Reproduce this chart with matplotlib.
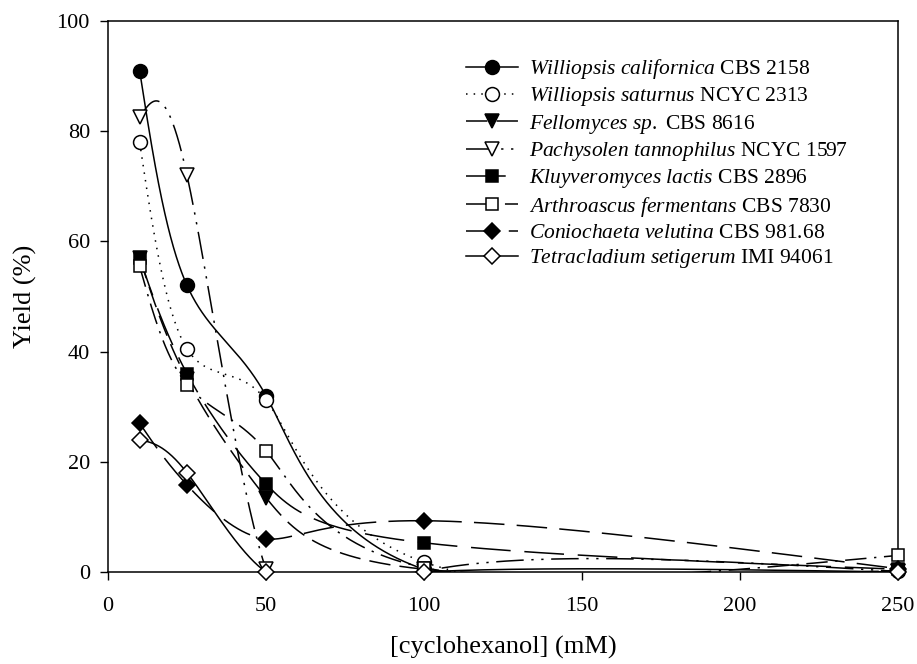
import numpy as np
import matplotlib
matplotlib.use('Agg')
from matplotlib import pyplot as plt

plt.rcParams['font.family'] = ['Liberation Serif', 'DejaVu Serif']
plt.rcParams['mathtext.fontset'] = 'custom'
plt.rcParams['mathtext.rm'] = 'Liberation Serif'
plt.rcParams['mathtext.it'] = 'Liberation Serif:italic'

conc = [10, 25, 50, 100, 250]

w_californica = [91, 52, 32, 0.5, 0.3]
w_saturnus = [78, 40.5, 31.2, 1.8, 0.2]
fellomyces = [57, 35, 13.5, 0.5, 0.2]
pachysolen = [82.5, 72, 0.5, 0.1, 0.1]
kluyveromyces = [57, 36, 16, 5.3, 0.5]
arthroascus = [55.5, 34, 22, 0.8, 3]
coniochaeta = [27, 15.8, 6, 9.3, 0.6]
tetracladium = [24, 18, 0, 0, 0]

labels = [
    r'$\mathit{Williopsis\ californica}$ CBS 2158',
    r'$\mathit{Williopsis\ saturnus}$ NCYC 2313',
    r'$\mathit{Fellomyces\ sp.}$ CBS 8616',
    r'$\mathit{Pachysolen\ tannophilus}$ NCYC 1597',
    r'$\mathit{Kluyveromyces\ lactis}$ CBS 2896',
    r'$\mathit{Arthroascus\ fermentans}$ CBS 7830',
    r'$\mathit{Coniochaeta\ velutina}$ CBS 981.68',
    r'$\mathit{Tetracladium\ setigerum}$ IMI 94061',
]
series = [w_californica, w_saturnus, fellomyces, pachysolen,
          kluyveromyces, arthroascus, coniochaeta, tetracladium]
markers = ['o', 'o', 'v', 'v', 's', 's', 'D', 'D']
filled = [True, False, True, False, True, False, True, False]
sizes = {'o': 10, 'v': 9.5, 's': 9, 'D': 7.8}
styles = ['-', (0, (1, 4)), (0, (14, 6)), (0, (18, 5, 1.5, 5, 1.5, 5)),
          (0, (26, 9)), (0, (14, 5, 1.5, 5)), (0, (20, 8)), '-']


def natural(v, ts):
    # natural cubic spline over a uniform parameter 0..n-1
    v = np.asarray(v, float)
    k = len(v)
    A = np.zeros((k, k))
    b = np.zeros(k)
    A[0, 0] = A[-1, -1] = 1
    for i in range(1, k - 1):
        A[i, i - 1:i + 2] = [1, 4, 1]
        b[i] = 6 * (v[i + 1] - 2 * v[i] + v[i - 1])
    m = np.linalg.solve(A, b)
    j = np.clip(np.floor(ts).astype(int), 0, k - 2)
    t1 = ts - j
    t0 = 1 - t1
    return (m[j] * t0 ** 3 + m[j + 1] * t1 ** 3) / 6 \
        + (v[j] - m[j] / 6) * t0 + (v[j + 1] - m[j + 1] / 6) * t1


def smooth(x, y, n=800):
    ts = np.linspace(0, len(x) - 1, n)
    return natural(x, ts), natural(y, ts)


fig = plt.figure(figsize=(9.17, 6.64), dpi=100)
ax = fig.add_axes([0.1178, 0.1386, 0.8612, 0.8298])

handles = []
for y, lab, mk, f, ls in zip(series, labels, markers, filled, styles):
    xs, ys = smooth(conc, y)
    ax.plot(xs, ys, color='black', lw=1.1, linestyle=ls, zorder=2)
    ms = sizes[mk]
    ax.plot(conc, y, linestyle='none', marker=mk, ms=ms, mec='black',
            mfc='black' if f else 'white', mew=1.1, zorder=3, clip_on=False)
    h, = ax.plot([], [], color='black', lw=1.1, linestyle=ls, marker=mk, ms=ms,
                 mec='black', mfc='black' if f else 'white', mew=1.1)
    handles.append(h)

ax.set_xlim(0, 250)
ax.set_ylim(0, 100)
ax.set_xticks([0, 50, 100, 150, 200, 250])
ax.set_yticks([0, 20, 40, 60, 80, 100])
ax.tick_params(direction='out', length=6, width=1, labelsize=16, pad=7)
ax.tick_params(axis='x', pad=12)
ax.set_xlabel('[cyclohexanol] (mM)', fontsize=19, labelpad=14)
ax.set_ylabel('Yield (%)', fontsize=19, labelpad=14)
for s in ax.spines.values():
    s.set_linewidth(1.1)

ax.legend(handles, labels, loc='upper left', bbox_to_anchor=(0.443, 0.95),
          frameon=False, fontsize=15.5, handlelength=2.4, handletextpad=0.5,
          labelspacing=0.2, borderaxespad=0)

fig.savefig('out.png', dpi=100)
